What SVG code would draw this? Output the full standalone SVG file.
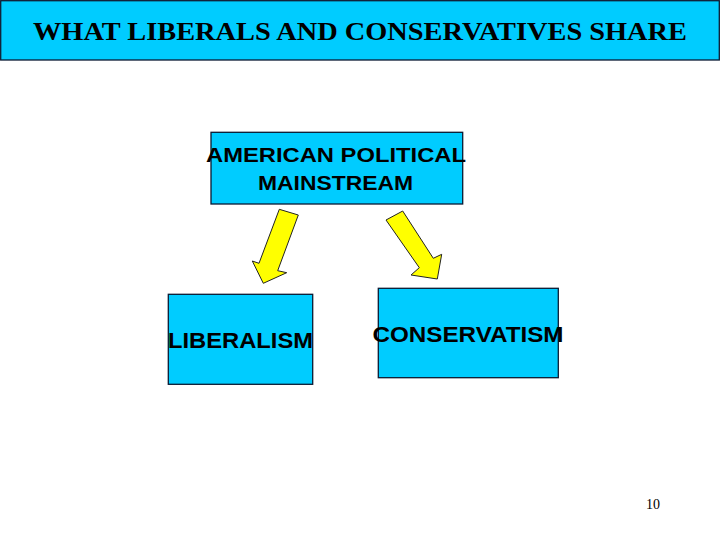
<svg xmlns="http://www.w3.org/2000/svg" width="720" height="540" viewBox="0 0 720 540">
<style>
.box{fill:#00CCFF;stroke:#0A1A33;stroke-width:1.3}
.lbl{font-family:"Liberation Sans",Arial,sans-serif;font-weight:bold;fill:#000;text-anchor:middle}
.arrow{fill:#FFFF00;stroke:#222;stroke-width:1;stroke-linejoin:miter}
</style>
<rect width="720" height="540" fill="#fff"/>
<g id="title">
<rect class="box" x="0.7" y="0.7" width="718.6" height="59.3"/>
<text x="360" y="39.5" font-family="'Liberation Serif','Times New Roman',serif" font-weight="bold" font-size="25" text-anchor="middle" textLength="654" lengthAdjust="spacingAndGlyphs">WHAT LIBERALS AND CONSERVATIVES SHARE</text>
</g>
<g id="mainstream">
<rect class="box" x="211" y="132.3" width="251.7" height="71.7"/>
<text class="lbl" x="336" y="161.5" font-size="20" textLength="260" lengthAdjust="spacingAndGlyphs">AMERICAN POLITICAL</text>
<text class="lbl" x="335.5" y="189.5" font-size="20" textLength="155" lengthAdjust="spacingAndGlyphs">MAINSTREAM</text>
</g>
<g id="liberalism">
<rect class="box" x="168.3" y="294.3" width="144.4" height="90"/>
<text class="lbl" x="240.5" y="348.3" font-size="22.5" textLength="145" lengthAdjust="spacingAndGlyphs">LIBERALISM</text>
</g>
<g id="conservatism">
<rect class="box" x="378.3" y="288.3" width="180" height="89.4"/>
<text class="lbl" x="468" y="341.7" font-size="22.5" textLength="191" lengthAdjust="spacingAndGlyphs">CONSERVATISM</text>
</g>
<g id="connectors">
<polygon class="arrow" points="279.3,209.3 298.3,215 277.7,270.7 286.7,272.7 263.3,283.3 252.3,261 259,263.3"/>
<polygon class="arrow" points="386,220 402.7,211 433.3,258.3 441.7,254.3 437.3,279 411,275 419.3,267.7"/>
</g>
<text x="653" y="509" font-family="'Liberation Serif','Times New Roman',serif" font-size="14" text-anchor="middle" fill="#000">10</text>
</svg>
